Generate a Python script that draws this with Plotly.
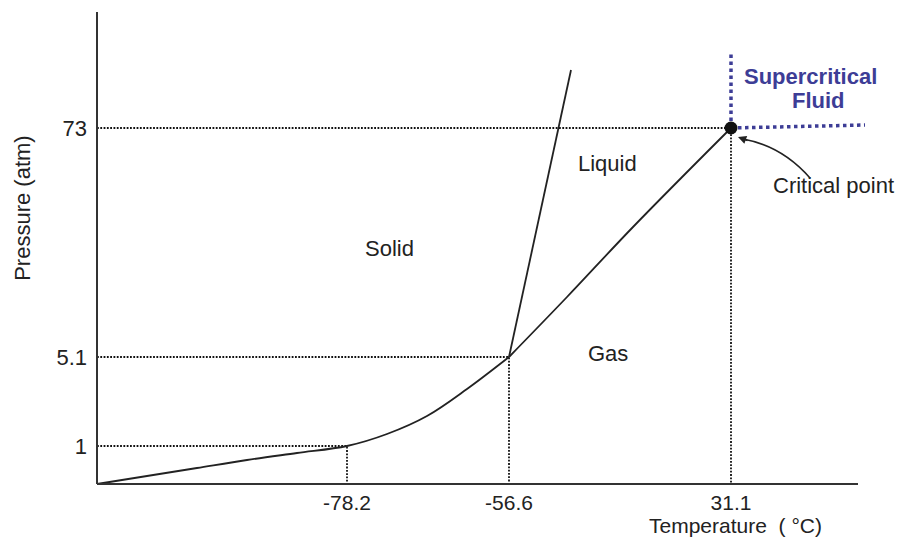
import plotly.graph_objects as go

# Schematic diagram coordinates (not to scale) with real-value tick labels
temp_labels = ["-78.2", "-56.6", "31.1"]
temp_pos = [250, 412, 634]
pres_labels = ["1", "5.1", "73"]
pres_pos = [38, 127, 356]

# Phase boundary curves (diagram units)
sub_x = [0, 50, 100, 150, 200, 250, 290, 330, 370, 412]
sub_y = [0, 8, 16, 24, 31, 38, 50, 68, 95, 127]
vap_x = [412, 470, 536, 634]
vap_y = [127, 187, 257, 356]
melt_x = [412, 474]
melt_y = [127, 414]
crit_x = [634]
crit_y = [356]
sc_vert_x = [634, 634]
sc_vert_y = [356, 432]
sc_horiz_x = [634, 768]
sc_horiz_y = [356, 359]

# Region labels
region_names = ["Solid", "Liquid", "Gas"]
region_x = [292, 510, 511]
region_y = [236, 321, 131]

FONT = "Liberation Sans, Arial, sans-serif"
INK = "#222222"
BLUE = "#3d3d96"
FS = 22

fig = go.Figure()

# dotted guide lines
gx, gy = [], []
for tx, py in zip(temp_pos, pres_pos):
    gx += [0, tx, tx, None]
    gy += [py, py, 0, None]
fig.add_trace(go.Scatter(x=gx, y=gy, mode="lines",
                         line=dict(color="#111111", width=1.8, dash="1.8px,1.5px"),
                         hoverinfo="skip", showlegend=False))

# supercritical boundaries
for xs, ys in [(sc_vert_x, sc_vert_y), (sc_horiz_x, sc_horiz_y)]:
    fig.add_trace(go.Scatter(x=xs, y=ys, mode="lines",
                             line=dict(color=BLUE, width=3.5, dash="3.5px,3.5px"),
                             hoverinfo="skip", showlegend=False))

# phase boundaries
for xs, ys in [(sub_x, sub_y), (vap_x, vap_y), (melt_x, melt_y)]:
    fig.add_trace(go.Scatter(x=xs, y=ys, mode="lines",
                             line=dict(color=INK, width=1.8, shape="spline", smoothing=1.0),
                             hoverinfo="skip", showlegend=False))

# critical point
fig.add_trace(go.Scatter(x=crit_x, y=crit_y, mode="markers",
                         marker=dict(color="#111111", size=13),
                         hoverinfo="skip", showlegend=False))

annotations = []
for name, x, y in zip(region_names, region_x, region_y):
    annotations.append(dict(x=x, y=y, xref="x", yref="y", text=name, showarrow=False,
                            font=dict(family=FONT, size=FS, color=INK)))
annotations.append(dict(x=713, y=408, xref="x", yref="y", text="<b>Supercritical</b>",
                        showarrow=False, font=dict(family=FONT, size=FS, color=BLUE)))
annotations.append(dict(x=721, y=384, xref="x", yref="y", text="<b>Fluid</b>",
                        showarrow=False, font=dict(family=FONT, size=FS, color=BLUE)))
annotations.append(dict(x=736, y=299, xref="x", yref="y", text="Critical point",
                        showarrow=False, font=dict(family=FONT, size=FS, color=INK)))
# arrowhead at end of the curved pointer
annotations.append(dict(x=641, y=347, xref="x", yref="y", ax=652, ay=343, axref="x", ayref="y",
                        text="", showarrow=True, arrowhead=2, arrowsize=1.1, arrowwidth=1.5,
                        arrowcolor=INK, standoff=0))
# axis titles
annotations.append(dict(x=638, xref="x", y=-0.0798, yref="paper", yanchor="middle",
                        xanchor="center", text="Temperature  ( °C)",
                        showarrow=False, font=dict(family=FONT, size=21, color=INK)))
annotations.append(dict(x=-0.088, xref="paper", y=0.588, yref="paper", xanchor="center",
                        yanchor="middle", text="Pressure (atm)", textangle=-90, showarrow=False,
                        font=dict(family=FONT, size=FS, color=INK)))

shapes = [
    dict(type="line", xref="x", yref="y", x0=0, y0=0, x1=761, y1=0,
         line=dict(color="#333333", width=2)),
    dict(type="line", xref="x", yref="y", x0=0, y0=0, x1=0, y1=472,
         line=dict(color="#333333", width=2)),
    dict(type="path", xref="x", yref="y", path="M 713,306 Q 685,338 646,345",
         line=dict(color=INK, width=1.5)),
]

fig.update_layout(
    width=898, height=538,
    margin=dict(l=90, r=32, t=12, b=50),
    paper_bgcolor="white", plot_bgcolor="white",
    showlegend=False,
    annotations=annotations,
    shapes=shapes,
    xaxis=dict(range=[-7, 769], showgrid=False, zeroline=False, showline=False,
               tickmode="array", tickvals=temp_pos, ticktext=temp_labels,
               ticks="", ticklabelstandoff=0,
               tickfont=dict(family=FONT, size=21, color=INK)),
    yaxis=dict(range=[-4, 472], showgrid=False, zeroline=False, showline=False,
               tickmode="array", tickvals=pres_pos, ticktext=pres_labels,
               ticks="", ticklabelstandoff=2,
               tickfont=dict(family=FONT, size=FS, color=INK)),
)

fig.write_html("out.html")
